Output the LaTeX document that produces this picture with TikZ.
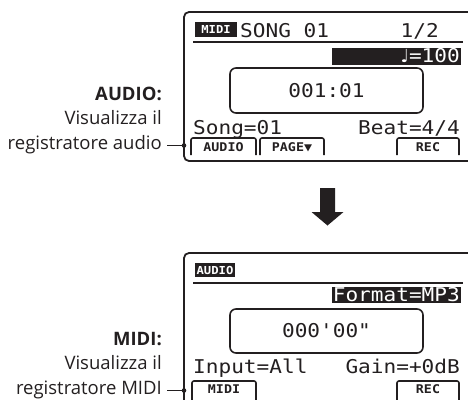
\documentclass[tikz,border=0pt]{standalone}
\usepackage{fontspec}
\setmainfont{Open Sans}
\newfontfamily\lcd[FakeStretch=1.11,Ligatures=TeXOff]{DejaVu Sans Mono}
\newfontfamily\sym{DejaVu Sans}
\definecolor{ink}{HTML}{231F20}
\tikzset{
  frame/.style={draw=ink,line width=1.8pt,rounded corners=5pt},
  lcdtext/.style={inner sep=0pt,font=\lcd\fontsize{19}{19}\selectfont,text=ink},
  tag/.style={fill=ink,text=white,inner sep=0pt,font=\lcd\bfseries\fontsize{11}{11}\selectfont},
  softkey/.style={draw=ink,line width=1.6pt,rounded corners=2pt},
  keytext/.style={inner sep=0pt,font=\lcd\bfseries\fontsize{12}{12}\selectfont,text=ink},
  lbl/.style={inner sep=0pt,anchor=base east,font=\fontsize{18.5}{18.5}\selectfont,text=ink},
  lbltitle/.style={lbl,font=\bfseries\fontsize{18.5}{18.5}\selectfont},
  conn/.style={draw=ink,line width=1pt},
  dot/.style={fill=ink},
  timebox/.style={draw=ink,line width=1.6pt,rounded corners=6pt}
}
\begin{document}
\begin{tikzpicture}[x=1pt,y=-1pt]
\useasboundingbox (0,0) rectangle (468,399);

% ---------- Panel 1 (MIDI screen) ----------
\draw[frame] (475,12) -- (184,12) -- (184,161) -- (475,161);
\node[tag,minimum width=42pt,minimum height=15pt] (miditag) at (216,29.5) {MIDI};
\node[lcdtext,anchor=base west] (song) at (240,37) {SONG 01};
\node[lcdtext,anchor=base east] (page) at (439,37) {1/2};
\draw[ink,line width=1.8pt] (193,42) -- (463,42);
\fill[ink] (332,48) rectangle (461,65);
\node[lcdtext,text=white,anchor=base east] (tempo) at (460,62) {{\sym\fontsize{18}{18}\selectfont ♩}=100};
\draw[timebox] (230,68) rectangle (423,113);
\node[lcdtext] (time1) at (326.5,90.5) {001:01};
\node[lcdtext,anchor=base west] (songnr) at (193,134) {Song=01};
\node[lcdtext,anchor=base east] (beat) at (460,134) {Beat=4/4};
\draw[softkey] (191,155) -- (191,138) -- (256,138) -- (256,155);
\node[keytext] (kaudio) at (223.5,147) {AUDIO};
\draw[softkey] (260,155) -- (260,138) -- (324,138) -- (324,155);
\node[keytext] (kpage) at (292,147) {PAGE▼};
\draw[softkey] (397,155) -- (397,138) -- (459,138) -- (459,155);
\node[keytext] (krec1) at (428,147) {REC};

% ---------- Arrow ----------
\fill[ink] (320,188) -- (335,188) -- (335,212) -- (343.5,212) -- (327.5,225.5) -- (311.5,212) -- (320,212) -- cycle;

% ---------- Panel 2 (AUDIO screen) ----------
\draw[frame] (475,253) -- (184,253) -- (184,410);
\node[tag,minimum width=40pt,minimum height=14pt] (audiotag) at (215,270) {AUDIO};
\draw[ink,line width=1.8pt] (193,283) -- (463,283);
\fill[ink] (332,286.5) rectangle (461,302.5);
\node[lcdtext,text=white,anchor=base east] (format) at (460,301) {Format=MP3};
\draw[timebox] (230,309) rectangle (423,353);
\node[lcdtext] (time2) at (326.5,331) {000'00"};
\node[lcdtext,anchor=base west] (input) at (193,373) {Input=All};
\node[lcdtext,anchor=base east] (gain) at (460,373) {Gain=+0dB};
\draw[softkey] (192,405) -- (192,381) -- (256,381) -- (256,405);
\node[keytext] (kmidi) at (224,389.5) {MIDI};
\draw[softkey] (397,405) -- (397,381) -- (459,381) -- (459,405);
\node[keytext] (krec2) at (428,389.5) {REC};

% ---------- Labels ----------
\node[lbltitle] (a1) at (162,100.5) {AUDIO:};
\node[lbl] (a2) at (162,124.5) {Visualizza il};
\node[lbl] (a3) at (162,149) {registratore audio};
\coordinate (adot) at (184,145.5);
\draw[conn] ([xshift=5pt]a3.base east |- adot) -- (adot);
\fill[dot] (adot) circle (2.3pt);

\node[lbltitle] (m1) at (162,345.5) {MIDI:};
\node[lbl] (m2) at (162,369.5) {Visualizza il};
\node[lbl] (m3) at (162,394) {registratore MIDI};
\coordinate (mdot) at (184,390.5);
\draw[conn] ([xshift=5pt]m3.base east |- mdot) -- (mdot);
\fill[dot] (mdot) circle (2.3pt);
\end{tikzpicture}
\end{document}
